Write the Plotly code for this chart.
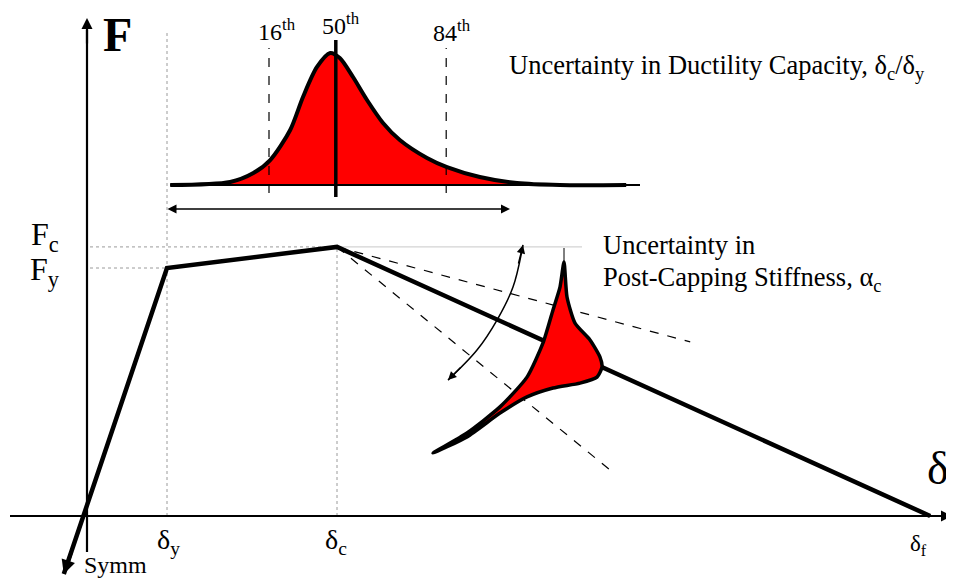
import plotly.graph_objects as go

# ---------------- data (normalised: displacement / delta_y , force / F_y) ----------------
backbone_d = [-0.29, 1.0, 3.125, 10.54]
backbone_F = [-0.234, 1.0, 1.085, 0.0]

# ductility-capacity PDF (delta_c / delta_y) sketched above the backbone
duct_d = [1.04, 1.79, 2.08, 2.29, 2.54, 2.70, 2.875, 3.04, 3.16, 3.325, 3.50, 3.70,
          3.91, 4.25, 4.50, 4.91, 5.375, 5.91, 6.74]
duct_density = [0, 0.023, 0.091, 0.189, 0.417, 0.667, 0.894, 1.0, 0.962, 0.818, 0.644,
                 0.470, 0.341, 0.205, 0.136, 0.061, 0.015, 0, 0]
pct_names = ["16<sup>th</sup>", "50<sup>th</sup>", "84<sup>th</sup>"]
pct_d = [2.275, 3.11, 4.49]

# alternative post-capping slopes (end points)
alt_end_d = [7.54, 6.54]
alt_end_F = [0.702, 0.185]

# post-capping stiffness PDF outline
alpha_pdf_d = [5.9625, 6.0, 6.1, 6.2875, 6.4125, 6.4375, 6.375, 6.1625, 5.825, 5.5, 5.1625,
               4.75, 4.325, 4.75, 5.1625, 5.5, 5.7, 5.825, 5.9125, 5.9625]
alpha_pdf_F = [1.024, 0.883, 0.778, 0.710, 0.641, 0.601, 0.560, 0.536, 0.516, 0.480, 0.415,
               0.319, 0.254, 0.335, 0.440, 0.560, 0.698, 0.831, 0.923, 1.024]

# rotation arc
arc_d = [5.45, 5.325, 5.125, 4.875, 4.5125]
arc_F = [1.093, 0.923, 0.790, 0.669, 0.548]

delta_labels = ["δ<sub>y</sub>", "δ<sub>c</sub>", "δ<sub>f</sub>"]
force_labels = ["F<sub>c</sub>", "F<sub>y</sub>"]

# ---------------- layout helpers (pixel -> axis units) ----------------
def D(px):
    return (px - 87) / 80.0

def Fp(py):
    return (516 - py) / 248.0

PAGE_OFFSET = 8  # default body margin of the html page
FONT = "Liberation Serif"
PDF_BASE = Fp(185)
PDF_SCALE = 132 / 248.0

fig = go.Figure()

def line(xs, ys, color="black", width=1, dash="solid", shape="linear", smoothing=1.0):
    fig.add_trace(go.Scatter(x=xs, y=ys, mode="lines", hoverinfo="skip", showlegend=False,
                             line=dict(color=color, width=width, dash=dash, shape=shape,
                                       smoothing=smoothing if shape == "spline" else None)))

dy_, dc_, df_ = backbone_d[1], backbone_d[2], backbone_d[3]
Fy_, Fc_ = backbone_F[1], backbone_F[2]

# dotted reference lines
line([D(90), dy_], [Fy_, Fy_], color="#9a9a9a", width=1, dash="dot")
line([D(90), dc_], [Fc_, Fc_], color="#9a9a9a", width=1, dash="dot")
line([dy_, dy_], [0, Fp(33)], color="#9a9a9a", width=1, dash="dot")
line([dc_, dc_], [0, Fc_], color="#9a9a9a", width=1, dash="dot")
line([dc_, D(582)], [Fc_, Fc_], color="#c8c8c8", width=1)

# alternative slopes
for xe, ye in zip(alt_end_d, alt_end_F):
    line([dc_, xe], [Fc_, ye], color="black", width=1.2, dash="dash")

# backbone
line(backbone_d, backbone_F, width=4.5)

# axes
line([D(10), D(940)], [0, 0], width=2.2)
line([0, 0], [Fp(552), Fp(30)], width=2.2)

# ductility pdf
pdf_y = [PDF_BASE + PDF_SCALE * v for v in duct_density]
fig.add_trace(go.Scatter(x=duct_d + [duct_d[-1], duct_d[0]], y=pdf_y + [PDF_BASE, PDF_BASE],
                         mode="lines", fill="toself", fillcolor="#ff0000", hoverinfo="skip",
                         showlegend=False, line=dict(width=0, shape="spline", smoothing=0.8)))
line(duct_d, pdf_y, width=4, shape="spline", smoothing=0.8)
line([duct_d[0], D(640)], [PDF_BASE, PDF_BASE], width=2)
for i, (name, xv) in enumerate(zip(pct_names, pct_d)):
    if i == 1:
        line([xv, xv], [Fp(197), Fp(40)], width=3.5)
    else:
        line([xv, xv], [Fp(193), Fp(48)], width=1.2, dash="dash")

# alpha pdf
fig.add_trace(go.Scatter(x=alpha_pdf_d, y=alpha_pdf_F, mode="lines", fill="toself",
                         fillcolor="#ff0000", hoverinfo="skip", showlegend=False,
                         line=dict(color="black", width=3.5, shape="spline", smoothing=0.6)))
line([alpha_pdf_d[0], alpha_pdf_d[0]], [alpha_pdf_F[0], Fp(248)], width=1)

# arc
line(arc_d, arc_F, width=1.5, shape="spline")

ann = []
def arrow(x, y, ax, ay, width=2, head=2, size=1.0, side="end"):
    ann.append(dict(x=x, y=y, ax=ax, ay=ay, xref="x", yref="y", axref="x", ayref="y",
                    text="", showarrow=True, arrowhead=head, arrowsize=size,
                    arrowwidth=width, arrowcolor="black", arrowside=side))

# axis arrowheads
arrow(D(952), 0, D(925), 0, width=2.2, head=2, size=1.0)
arrow(0, Fp(18), 0, Fp(45), width=2.2, head=2, size=1.0)
# symm arrowhead
arrow(backbone_d[0], backbone_F[0], D(72), Fp(550), width=3.5, head=2, size=0.8)
# double arrow below pdf
arrow(D(510), Fp(209), D(166), Fp(209), width=1.5, head=2, size=1.2, side="end+start")
# arc heads
arrow(arc_d[0], arc_F[0], D(518), Fp(265), width=1.3, head=2, size=1.3)
arrow(arc_d[-1], arc_F[-1], D(462), Fp(366), width=1.3, head=2, size=1.3)

def label(text, px, py, size, xanchor="center", yanchor="middle"):
    ann.append(dict(x=D(px), y=Fp(py), xref="x", yref="y", text=text, showarrow=False,
                    xanchor=xanchor, yanchor=yanchor,
                    font=dict(family=FONT, size=size, color="black")))

label("<b>F</b>", 117, 34, 48)
label("δ", 938, 468, 46)
label(force_labels[0], 45, 236, 32)
label(force_labels[1], 45, 271, 32)
label(delta_labels[0], 168, 541, 28)
label(delta_labels[1], 336, 541, 28)
label(delta_labels[2], 918, 545, 23)
label("Symm", 115, 565, 24)
label(pct_names[0], 277, 30, 24)
label(pct_names[1], 341, 24, 24)
label(pct_names[2], 452, 31, 24)
label("Uncertainty in Ductility Capacity, δ<sub>c</sub>/δ<sub>y</sub>", 507, 67, 26.5, xanchor="left")
label("Uncertainty in", 601, 245, 26.5, xanchor="left")
label("Post-Capping Stiffness, α<sub>c</sub>", 601, 279, 26.5, xanchor="left")

fig.update_layout(
    width=954, height=581, margin=dict(l=0, r=0, t=0, b=0),
    plot_bgcolor="white", paper_bgcolor="white", showlegend=False,
    xaxis=dict(range=[D(PAGE_OFFSET), D(954 + PAGE_OFFSET)], visible=False, fixedrange=True),
    yaxis=dict(range=[Fp(581 + PAGE_OFFSET), Fp(PAGE_OFFSET)], visible=False, fixedrange=True),
    annotations=ann,
)

fig.write_html("out.html")
